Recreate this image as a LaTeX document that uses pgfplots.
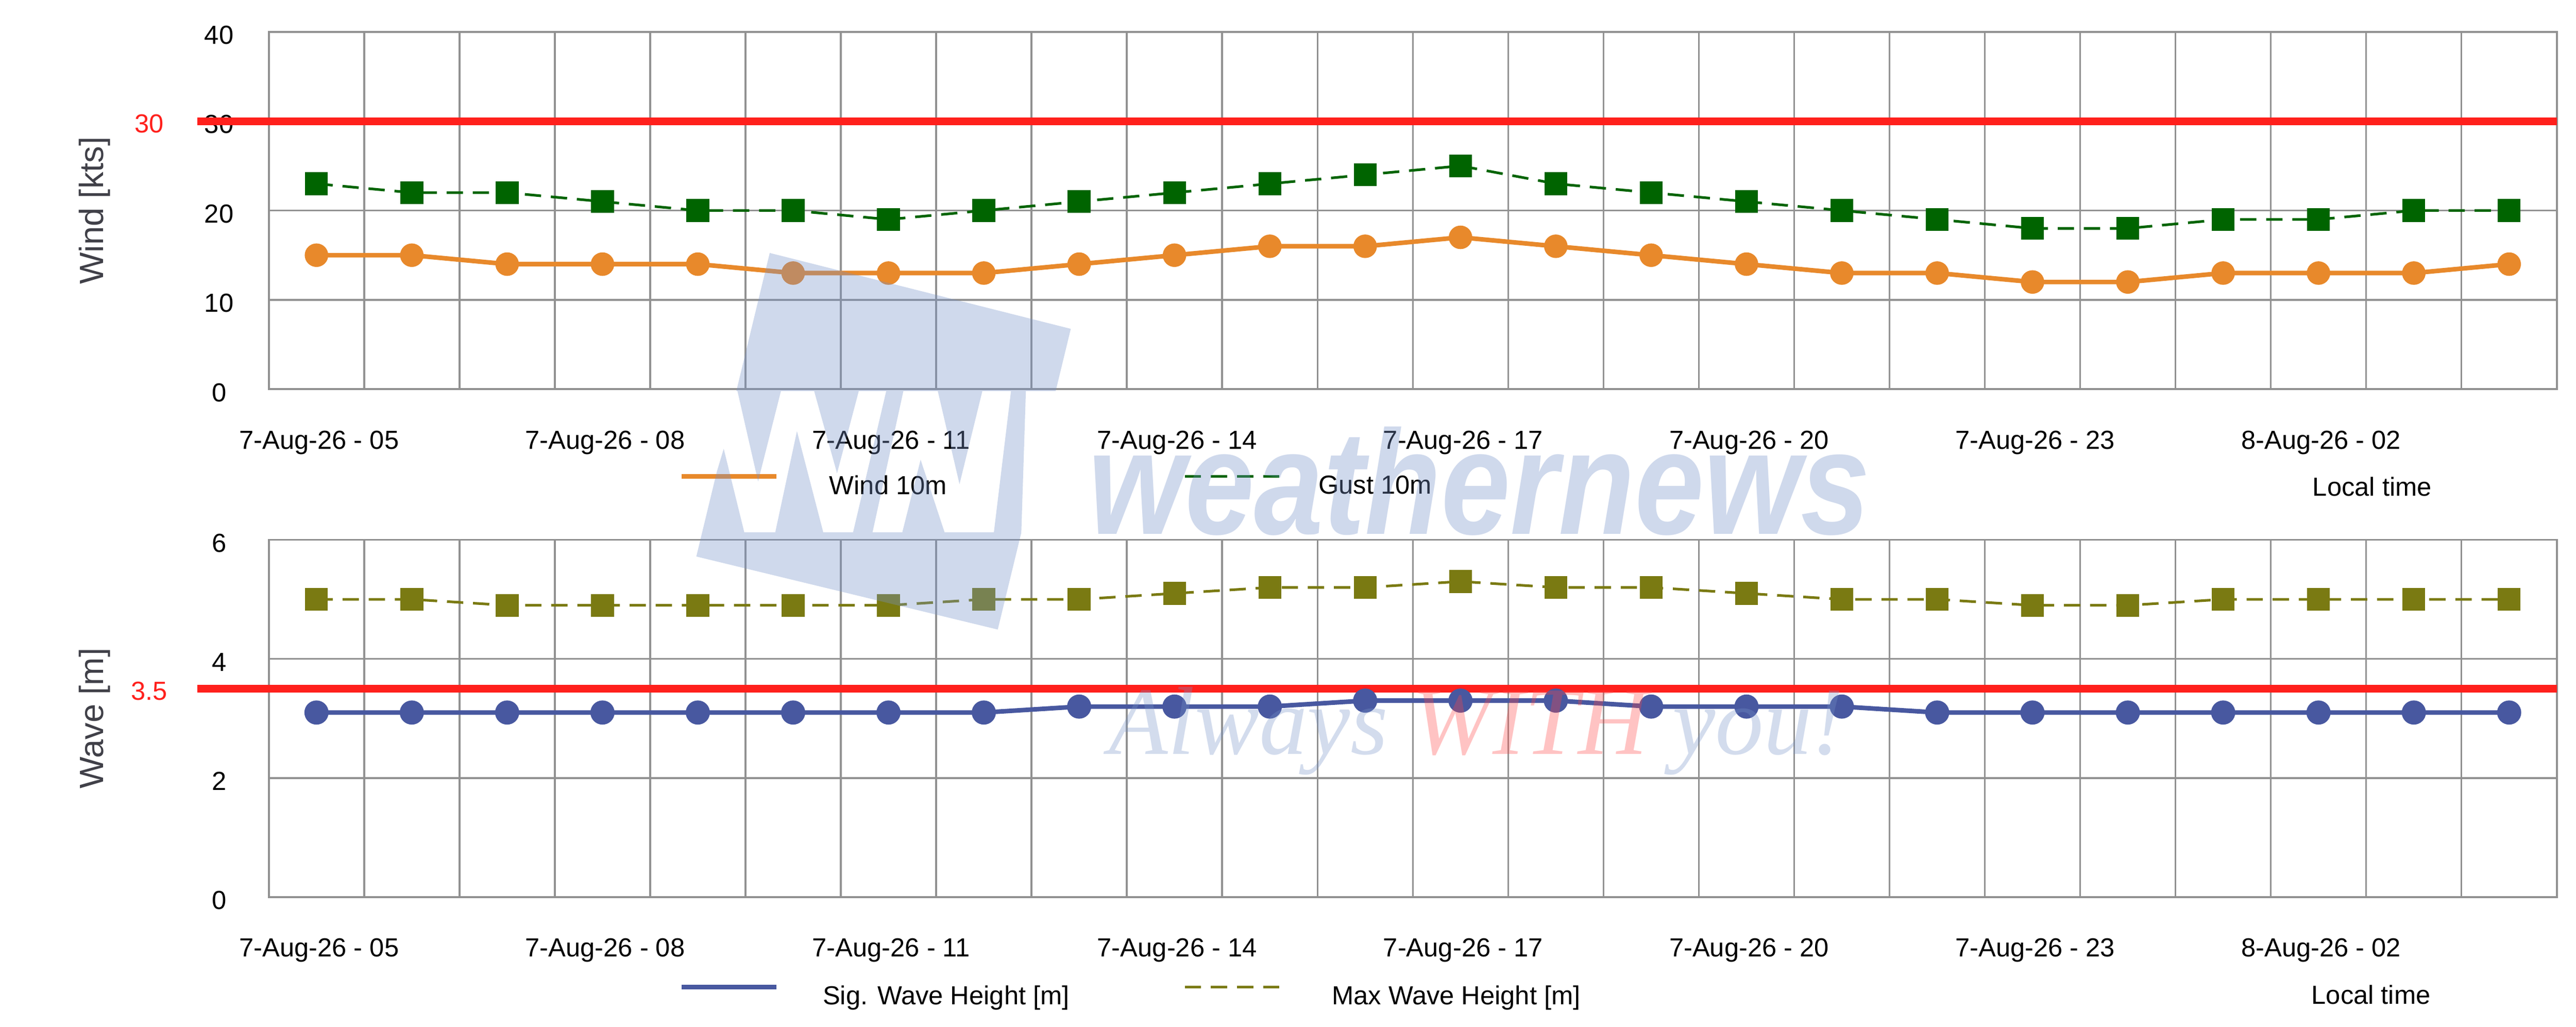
\documentclass[border=0pt]{standalone}
\usepackage{fontspec}
\setmainfont{Liberation Sans}
\newfontfamily\wmserif{Liberation Serif}
\usepackage{pgfplots}
\usepackage{pgfplotstable}
\pgfplotsset{compat=1.18}

\definecolor{windc}{RGB}{232,137,43}
\definecolor{gustc}{RGB}{0,100,0}
\definecolor{sigc}{RGB}{72,88,160}
\definecolor{maxc}{RGB}{122,122,18}
\definecolor{limc}{RGB}{255,32,28}
\definecolor{gridc}{RGB}{145,145,145}
\definecolor{labc}{RGB}{64,64,72}
\definecolor{wmblue}{RGB}{118,145,200}
\definecolor{wmpink}{RGB}{255,69,69}

\pgfplotstableread{
x wind gust sig max
0  15 23 3.1 5.0
1  15 22 3.1 5.0
2  14 22 3.1 4.9
3  14 21 3.1 4.9
4  14 20 3.1 4.9
5  13 20 3.1 4.9
6  13 19 3.1 4.9
7  13 20 3.1 5.0
8  14 21 3.2 5.0
9  15 22 3.2 5.1
10 16 23 3.2 5.2
11 16 24 3.3 5.2
12 17 25 3.3 5.3
13 16 23 3.3 5.2
14 15 22 3.2 5.2
15 14 21 3.2 5.1
16 13 20 3.2 5.0
17 13 19 3.1 5.0
18 12 18 3.1 4.9
19 12 18 3.1 4.9
20 13 19 3.1 5.0
21 13 19 3.1 5.0
22 13 20 3.1 5.0
23 14 20 3.1 5.0
}\data

\tikzset{
  limlab/.style={text=limc, anchor=center, inner sep=0pt, yshift=-0.7pt, font=\fontsize{8}{9.6}\selectfont},
  loclab/.style={anchor=west, inner sep=0pt, font=\fontsize{8}{9.6}\selectfont},
}

\pgfplotsset{
  common/.style={
    width=701.125pt, height=109.5pt, scale only axis,
    xmin=-0.5, xmax=23.5, ymin=0,
    xtick={0,3,...,21},
    xticklabels={7-Aug-26 - 05,7-Aug-26 - 08,7-Aug-26 - 11,7-Aug-26 - 14,7-Aug-26 - 17,7-Aug-26 - 20,7-Aug-26 - 23,8-Aug-26 - 02},
    minor xtick={-0.5,0.5,...,23.5},
    xminorgrids=true, xmajorgrids=false, ymajorgrids=true,
    major tick length=0pt, minor tick length=0pt,
    grid style={gridc, line width=0.55pt},
    minor grid style={gridc, line width=0.55pt},
    axis line style={gridc, line width=0.6pt},
    tick label style={font=\fontsize{8}{9.6}\selectfont, inner sep=0pt, text=black},
    xticklabel style={anchor=center, yshift=-16.3pt, xshift=0.8pt},
    yticklabel style={anchor=center, xshift=-15.25pt, yshift=-1pt},
    /pgf/number format/assume math mode=true,
    clip=false,
    ylabel style={at={(axis description cs:-0.0761,0.5)}, anchor=center, font=\fontsize{10.3}{12}\selectfont, text=labc, inner sep=0pt},
    legend columns=2,
    legend style={anchor=west, draw=none, fill=none, inner sep=0pt, outer sep=0pt,
      column sep=0pt, row sep=0pt, nodes={inner sep=0pt, outer sep=0pt},
      font=\fontsize{8}{9.6}\selectfont},
    legend image code/.code={\draw[#1] (0pt,3.3pt) -- (29pt,3.3pt);},
  },
  limline/.style={limc, line width=2.4pt, forget plot},
}

\begin{document}
\begin{tikzpicture}
\useasboundingbox (-82.375pt,-195.375pt) rectangle (707pt,119.25pt);

% ---------------- top: wind ----------------
\begin{axis}[common, ymax=40, ytick={0,10,20,30,40}, ylabel={Wind [kts]},
  legend style={at={(axis description cs:0.1794,-0.2728)}}]
\addplot[limline] coordinates {(-1.249,30) (23.5,30)};
\addplot[windc, line width=1.4pt, mark=*, mark size=2.9pt, mark options={solid, fill=windc, draw=none}] table[x=x, y=wind] {\data};
\addlegendentry{\hspace*{15.6pt}\makebox[108.5pt][l]{Wind 10m}}
\addplot[gustc, line width=0.8pt, dash pattern=on 5pt off 3pt, mark=square*, mark size=3.1pt, mark options={solid, fill=gustc, draw=none}] table[x=x, y=gust] {\data};
\addlegendentry{\hspace*{11.6pt}Gust 10m}
\node[limlab] at (axis cs:-1.754,30) {30};
\node[loclab] at (axis description cs:0.8930,-0.2728) {Local time};
\end{axis}

% ---------------- bottom: wave ----------------
\begin{axis}[common, at={(0pt,-155.625pt)}, anchor=south west, ymax=6, ytick={0,2,4,6}, ylabel={Wave [m]},
  legend style={at={(axis description cs:0.1794,-0.2797)}}]
\addplot[limline] coordinates {(-1.249,3.5) (23.5,3.5)};
\addplot[sigc, line width=1.4pt, mark=*, mark size=3pt, mark options={solid, fill=sigc, draw=none}] table[x=x, y=sig] {\data};
\addlegendentry{\hspace*{13.6pt}\makebox[110.5pt][l]{Sig. Wave Height [m]}}
\addplot[maxc, line width=0.8pt, dash pattern=on 5pt off 3pt, mark=square*, mark size=3.1pt, mark options={solid, fill=maxc, draw=none}] table[x=x, y=max] {\data};
\addlegendentry{\hspace*{15.7pt}Max Wave Height [m]}
\node[limlab] at (axis cs:-1.754,3.5) {3.5};
\node[loclab] at (axis description cs:0.8925,-0.2728) {Local time};
\end{axis}

% ---------------- watermark ----------------
\begin{scope}
\clip (153.5pt,41.75pt) -- (245.75pt,18.5pt) -- (223.375pt,-73.625pt) -- (131pt,-51.25pt) -- cycle;
\fill[wmblue, fill opacity=0.35]
  (100pt,-0.54pt) rectangle (260pt,50pt)
  (100pt,-43.875pt) rectangle (260pt,-80pt)
  (131.675pt,-43.875pt) -- (145.71pt,-43.875pt) -- (139.4pt,-18.25pt) -- cycle
  (143.6pt,-0.54pt) -- (156.94pt,-0.54pt) -- (149.93pt,-28.25pt) -- cycle
  (155.18pt,-43.875pt) -- (169.91pt,-43.875pt) -- (161.84pt,-12.84pt) -- cycle
  (167.1pt,-0.54pt) -- (180.79pt,-0.54pt) -- (174.125pt,-25.75pt) -- cycle
  (189.2pt,-0.54pt) -- (194.46pt,-0.54pt) -- (184.99pt,-43.875pt) -- (179.03pt,-43.875pt) -- cycle
  (194.11pt,-43.875pt) -- (207.09pt,-43.875pt) -- (199.73pt,-21.59pt) -- cycle
  (204.99pt,-0.54pt) -- (218.66pt,-0.54pt) -- (211.65pt,-29.09pt) -- cycle
  (227.43pt,-0.54pt) -- (231.99pt,-0.54pt) -- (230.59pt,-43.875pt) -- (222.18pt,-43.875pt) -- cycle;
\end{scope}
\node[anchor=base west, inner sep=0pt, xscale=0.84, text=wmblue, text opacity=0.35,
  font=\fontsize{45.4}{50}\selectfont\bfseries\itshape] at (251pt,-44.375pt) {weathernews};
\node[anchor=base west, inner sep=0pt, text opacity=0.32,
  font=\fontsize{29.6}{33}\selectfont\wmserif\itshape] at (257.25pt,-111.75pt)
  {\textcolor{wmblue}{Always} \textcolor{wmpink}{WITH} \textcolor{wmblue}{you!}};
\end{tikzpicture}
\end{document}
